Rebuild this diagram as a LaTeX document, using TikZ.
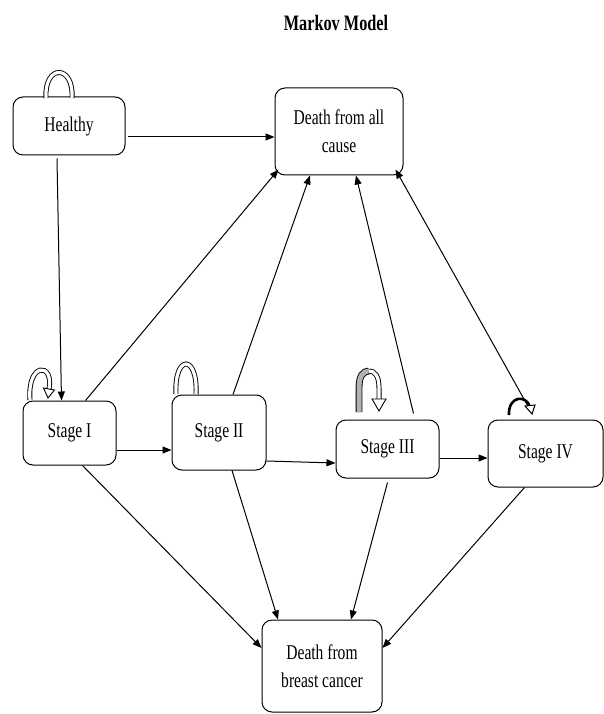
\documentclass[tikz,border=0pt]{standalone}
\usepackage{fontspec}
\setmainfont{Liberation Serif}[FakeStretch=0.74]
\usetikzlibrary{arrows.meta}
\begin{document}
\begin{tikzpicture}[x=1pt,y=-1pt,
  box/.style={draw, line width=1pt, rounded corners=10pt, align=center, inner sep=0pt,
    font=\fontsize{21}{28}\selectfont},
  arr/.style={line width=1pt, -{Triangle[length=9pt,width=7pt]}},
  hollow/.style={line width=0.9pt, double=white, double distance=3.2pt},
  headw/.style={draw, line width=0.9pt, fill=white}]
\useasboundingbox (0,0) rectangle (604,714);
\node[font=\bfseries\fontsize{22}{26}\selectfont] (title) at (336,23) {Markov Model};
\node[box, minimum width=112pt, minimum height=58pt] (healthy) at (69,126) {Healthy};
\node[box, minimum width=128pt, minimum height=87pt] (dall) at (339,131.5) {Death from all\\cause};
\node[box, minimum width=93pt, minimum height=64pt] (s1) at (69.5,433) {Stage I};
\node[box, minimum width=94pt, minimum height=75pt] (s2) at (219,432.5) {Stage II};
\node[box, minimum width=103pt, minimum height=58pt] (s3) at (387.5,449) {Stage III};
\node[box, minimum width=115pt, minimum height=67pt] (s4) at (545.5,453.5) {Stage IV};
\node[box, minimum width=120pt, minimum height=92pt] (dbc) at (322,666) {Death from\\breast cancer};
% transitions
\draw[arr] ([xshift=2pt,yshift=-11pt]healthy.east) -- ([yshift=-5.5pt]dall.west);
\draw[arr] ([xshift=-12pt,yshift=-3pt]healthy.south) -- ([xshift=-8pt]s1.north);
\draw[arr] ([xshift=16pt]s1.north) -- ([xshift=4pt,yshift=6pt]dall.south west);
\draw[arr] ([xshift=14pt]s2.north) -- ([xshift=-29pt]dall.south);
\draw[arr] ([xshift=26pt,yshift=6pt]s3.north) -- ([xshift=17pt]dall.south);
\draw[arr] ([xshift=-14pt,yshift=7pt]s4.north) -- ([xshift=-8pt,yshift=6pt]dall.south east);
\draw[arr] ([yshift=-17pt]s1.east) -- ([yshift=-17.5pt]s2.west);
\draw[arr] ([yshift=-28.5pt]s2.east) -- ([yshift=-14pt]s3.west);
\draw[arr] ([yshift=-9pt]s3.east) -- ([yshift=-4.5pt]s4.west);
\draw[arr] ([xshift=13pt]s1.south) -- ([yshift=18pt]dbc.west);
\draw[arr] ([xshift=13pt]s2.south) -- ([xshift=-44pt]dbc.north);
\draw[arr] ([yshift=-4pt]s3.south) -- ([xshift=29pt]dbc.north);
\draw[arr] ([xshift=-21pt]s4.south) -- ([yshift=18pt]dbc.east);
% self loops
\draw[hollow] (46,98) .. controls (44,64) and (74,64) .. (72,98);
\draw[hollow] (30,400) .. controls (27,362) and (54,362) .. (49,389);
\draw[headw] (43.5,388) -- (54.5,390) -- (48,398) -- cycle;
\draw[hollow] (176,394) .. controls (174,354) and (198,354) .. (196,394);
\draw[line width=0.9pt, double=gray!60, double distance=5pt] (359,412) -- (359,388) .. controls (359,376) and (363,371) .. (369,371);
\draw[hollow] (369,371) .. controls (375,371) and (379,376) .. (379,388) -- (379,399);
\draw[headw] (372,399) -- (386,399) -- (379,411) -- cycle;
\draw[line width=2.6pt] (509,415) .. controls (508,396) and (526,394) .. (530,407);
\draw[draw, line width=1pt, fill=white] (525,406) -- (535,405) -- (532,414) -- cycle;
\end{tikzpicture}
\end{document}
